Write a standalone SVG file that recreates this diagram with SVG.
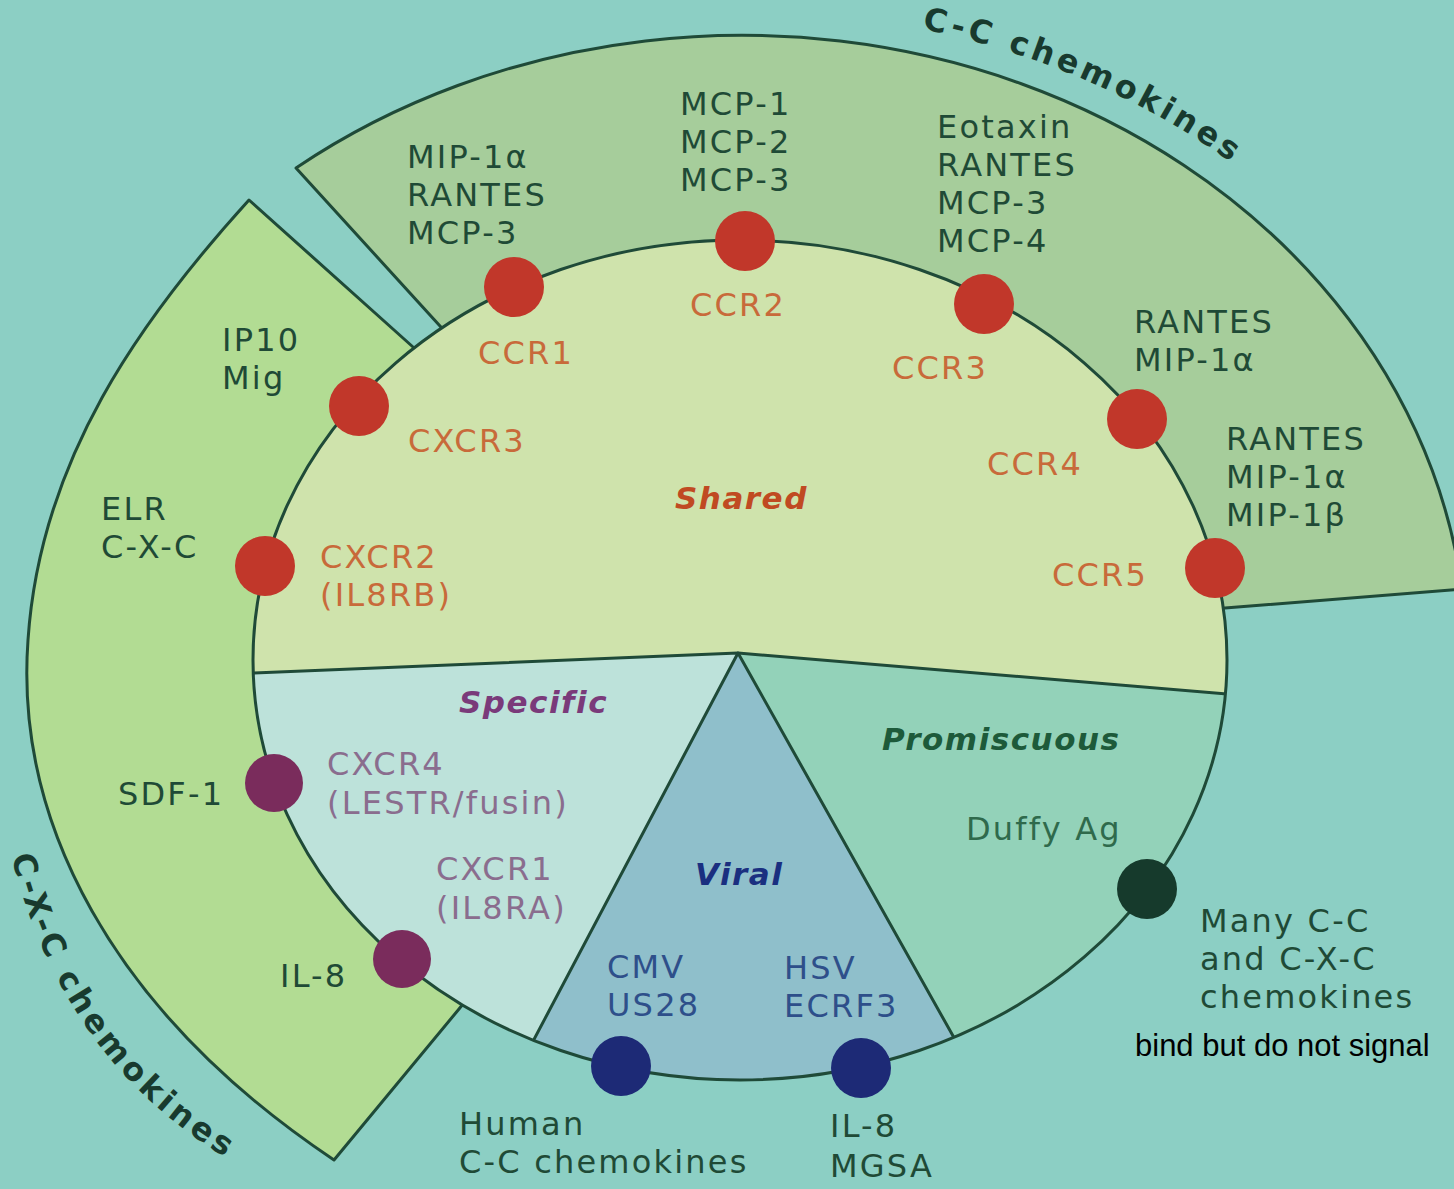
<svg xmlns="http://www.w3.org/2000/svg" width="1454" height="1189" viewBox="0 0 1454 1189">
<style>
.edge{stroke:#1f4a38;stroke-width:3;stroke-linejoin:round}
.line{fill:none;stroke:#1f4a38;stroke-width:3;stroke-linejoin:round}
.t{font-family:"DejaVu Sans","Liberation Sans",sans-serif;font-size:32px;letter-spacing:2.2px}
.dk{fill:#1f4a36}
.rc{fill:#c86a3a}
.sp{fill:#8a6d8e}
.vr{fill:#2e4f8a}
.pm{fill:#2f6a4c}
.hd{font-family:"DejaVu Sans","Liberation Sans",sans-serif;font-weight:bold;font-style:italic;font-size:31px;letter-spacing:1.5px}
.arc{font-family:"DejaVu Sans","Liberation Sans",sans-serif;font-weight:bold;font-size:32px;letter-spacing:4px;fill:#183a2e}
.red{fill:#c1372a}
.pur{fill:#7a2c5c}
.blu{fill:#1d2a76}
.blk{fill:#163a2c}
</style>
<defs>
<path id="ccArc" d="M 918,28 A 757 649 0 0 1 1480,505"/>
<path id="cxcArc" d="M 10,850 Q 60,1060 230,1160"/>
<clipPath id="disc"><ellipse cx="740" cy="660" rx="487" ry="420"/></clipPath>
</defs>
<rect x="0" y="0" width="1454" height="1189" fill="#8ccfc4"/>

<g id="band-cc">
<path class="edge" fill="#a6cd9b" d="M 440,326 L 296,168 A 725 627 0 0 1 1462,589 L 1225,608 L 740,660 Z"/>
<text class="arc"><textPath href="#ccArc" startOffset="4">C-C chemokines</textPath></text>
</g>

<g id="band-cxc">
<path class="edge" fill="#b2dc93" d="M 413,347 L 249,200 C 140,320 40,460 28,640 C 15,820 110,1010 334,1160 L 459,1009 L 740,660 Z"/>
<text class="arc"><textPath href="#cxcArc" startOffset="6">C-X-C chemokines</textPath></text>
</g>

<g id="region-shared">
<ellipse cx="740" cy="660" rx="487" ry="420" fill="#cfe3ac"/>
<text class="hd" x="675" y="509" fill="#c04a22">Shared</text>
</g>

<g id="region-specific">
<polygon clip-path="url(#disc)" fill="#bde2da" points="200,675.2 738,653 502,1100 200,1100"/>
<text class="hd" x="459" y="713" fill="#7a3a7a">Specific</text>
</g>

<g id="region-viral">
<polygon clip-path="url(#disc)" fill="#8fbfcb" points="738,653 989,1100 502,1100"/>
<text class="hd" x="695" y="885" fill="#1a2f80">Viral</text>
</g>

<g id="region-promiscuous">
<polygon clip-path="url(#disc)" fill="#93d2b9" points="738,653 1300,700 1300,1100 989,1100"/>
<text class="hd" x="882" y="750" fill="#1d5a3a">Promiscuous</text>
</g>

<g id="outlines">
<polyline class="line" clip-path="url(#disc)" points="200,675.2 738,653 1300,700"/>
<polyline class="line" clip-path="url(#disc)" points="502,1100 738,653 989,1100"/>
<ellipse class="line" cx="740" cy="660" rx="487" ry="420"/>
</g>

<g id="ccr1">
<circle class="red" cx="514" cy="287" r="30"/>
<text class="t dk"><tspan x="407" y="168">MIP-1α</tspan><tspan x="407" y="206">RANTES</tspan><tspan x="407" y="244">MCP-3</tspan></text>
<text class="t rc" x="478" y="364">CCR1</text>
</g>

<g id="ccr2">
<circle class="red" cx="745" cy="241" r="30"/>
<text class="t dk"><tspan x="680" y="115">MCP-1</tspan><tspan x="680" y="153">MCP-2</tspan><tspan x="680" y="191">MCP-3</tspan></text>
<text class="t rc" x="690" y="316">CCR2</text>
</g>

<g id="ccr3">
<circle class="red" cx="984" cy="304" r="30"/>
<text class="t dk"><tspan x="937" y="138">Eotaxin</tspan><tspan x="937" y="176">RANTES</tspan><tspan x="937" y="214">MCP-3</tspan><tspan x="937" y="252">MCP-4</tspan></text>
<text class="t rc" x="892" y="379">CCR3</text>
</g>

<g id="ccr4">
<circle class="red" cx="1137" cy="419" r="30"/>
<text class="t dk"><tspan x="1134" y="333">RANTES</tspan><tspan x="1134" y="371">MIP-1α</tspan></text>
<text class="t rc" x="987" y="475">CCR4</text>
</g>

<g id="ccr5">
<circle class="red" cx="1215" cy="568" r="30"/>
<text class="t dk"><tspan x="1226" y="450">RANTES</tspan><tspan x="1226" y="488">MIP-1α</tspan><tspan x="1226" y="526">MIP-1β</tspan></text>
<text class="t rc" x="1052" y="586">CCR5</text>
</g>

<g id="cxcr3">
<circle class="red" cx="359" cy="406" r="30"/>
<text class="t dk"><tspan x="222" y="351">IP10</tspan><tspan x="222" y="389">Mig</tspan></text>
<text class="t rc" x="408" y="452">CXCR3</text>
</g>

<g id="cxcr2">
<circle class="red" cx="265" cy="566" r="30"/>
<text class="t dk"><tspan x="101" y="520">ELR</tspan><tspan x="101" y="558">C-X-C</tspan></text>
<text class="t rc"><tspan x="320" y="568">CXCR2</tspan><tspan x="320" y="606">(IL8RB)</tspan></text>
</g>

<g id="cxcr4">
<circle class="pur" cx="274" cy="783" r="29"/>
<text class="t dk" x="118" y="805">SDF-1</text>
<text class="t sp"><tspan x="327" y="775">CXCR4</tspan><tspan x="327" y="814">(LESTR/fusin)</tspan></text>
</g>

<g id="cxcr1">
<circle class="pur" cx="402" cy="959" r="29"/>
<text class="t dk" x="280" y="987">IL-8</text>
<text class="t sp"><tspan x="436" y="880">CXCR1</tspan><tspan x="436" y="919">(IL8RA)</tspan></text>
</g>

<g id="us28">
<circle class="blu" cx="621" cy="1066" r="30"/>
<text class="t vr"><tspan x="607" y="978">CMV</tspan><tspan x="607" y="1016">US28</tspan></text>
<text class="t dk"><tspan x="459" y="1135">Human</tspan><tspan x="459" y="1173">C-C chemokines</tspan></text>
</g>

<g id="ecrf3">
<circle class="blu" cx="861" cy="1068" r="30"/>
<text class="t vr"><tspan x="784" y="979">HSV</tspan><tspan x="784" y="1017">ECRF3</tspan></text>
<text class="t dk"><tspan x="830" y="1137">IL-8</tspan><tspan x="830" y="1177">MGSA</tspan></text>
</g>

<g id="duffy">
<circle class="blk" cx="1147" cy="889" r="30"/>
<text class="t pm" x="966" y="840">Duffy Ag</text>
<text class="t dk"><tspan x="1200" y="932">Many C-C</tspan><tspan x="1200" y="970">and C-X-C</tspan><tspan x="1200" y="1008">chemokines</tspan></text>
<text x="1135" y="1056" font-family="Liberation Sans, Arial, sans-serif" font-size="31" fill="#000">bind but do not signal</text>
</g>
</svg>
